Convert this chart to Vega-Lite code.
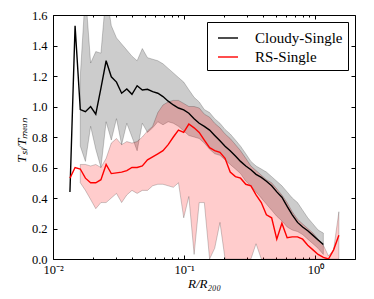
{
  "$schema": "https://vega.github.io/schema/vega-lite/v6.json",
  "autosize": "none",
  "width": 302,
  "height": 244,
  "padding": {"left": 53, "top": 15, "right": 19, "bottom": 40},
  "background": "white",
  "config": {
    "view": {"stroke": "black", "strokeWidth": 1},
    "axis": {
      "labelFont": "Liberation Serif", "labelFontSize": 12.5, "labelColor": "black",
      "tickColor": "black", "tickWidth": 1, "grid": false, "domain": false,
      "titleFont": "Liberation Serif", "titleFontSize": 13, "titleFontStyle": "italic",
      "titleFontWeight": "normal", "titleColor": "black"
    }
  },
  "data": {"values": [
    {"x":0.01346,"s":"Cloudy-Single","v":0.44},
    {"x":0.01473,"s":"Cloudy-Single","v":1.53},
    {"x":0.01614,"s":"Cloudy-Single","v":0.98,"lo":0.74,"hi":1.20},
    {"x":0.01766,"s":"Cloudy-Single","v":0.966,"lo":0.64,"hi":1.75},
    {"x":0.01935,"s":"Cloudy-Single","v":1.00,"lo":0.87,"hi":1.285},
    {"x":0.02118,"s":"Cloudy-Single","v":0.95,"lo":0.72,"hi":1.36},
    {"x":0.02319,"s":"Cloudy-Single","v":1.12,"lo":0.60,"hi":1.35},
    {"x":0.0254,"s":"Cloudy-Single","v":1.30,"lo":0.90,"hi":1.75},
    {"x":0.02781,"s":"Cloudy-Single","v":1.195,"lo":0.78,"hi":1.53},
    {"x":0.03046,"s":"Cloudy-Single","v":1.16,"lo":0.92,"hi":1.45},
    {"x":0.03334,"s":"Cloudy-Single","v":1.087,"lo":0.75,"hi":1.41},
    {"x":0.0365,"s":"Cloudy-Single","v":1.115,"lo":0.89,"hi":1.37},
    {"x":0.03997,"s":"Cloudy-Single","v":1.08,"lo":0.80,"hi":1.33},
    {"x":0.04376,"s":"Cloudy-Single","v":1.136,"lo":0.71,"hi":1.30},
    {"x":0.04793,"s":"Cloudy-Single","v":1.108,"lo":0.89,"hi":1.38},
    {"x":0.05248,"s":"Cloudy-Single","v":1.113,"lo":0.83,"hi":1.32},
    {"x":0.05745,"s":"Cloudy-Single","v":1.097,"lo":0.86,"hi":1.31},
    {"x":0.06291,"s":"Cloudy-Single","v":1.087,"lo":0.90,"hi":1.30},
    {"x":0.06887,"s":"Cloudy-Single","v":1.065,"lo":0.88,"hi":1.28},
    {"x":0.07543,"s":"Cloudy-Single","v":1.035,"lo":0.90,"hi":1.25},
    {"x":0.0826,"s":"Cloudy-Single","v":1.01,"lo":0.89,"hi":1.22},
    {"x":0.09036,"s":"Cloudy-Single","v":0.99,"lo":0.87,"hi":1.19},
    {"x":0.09908,"s":"Cloudy-Single","v":0.978,"lo":0.84,"hi":1.16},
    {"x":0.1084,"s":"Cloudy-Single","v":0.956,"lo":0.81,"hi":1.11},
    {"x":0.1189,"s":"Cloudy-Single","v":0.92,"lo":0.80,"hi":1.06},
    {"x":0.13,"s":"Cloudy-Single","v":0.89,"lo":0.79,"hi":1.03},
    {"x":0.1422,"s":"Cloudy-Single","v":0.87,"lo":0.76,"hi":0.98},
    {"x":0.156,"s":"Cloudy-Single","v":0.845,"lo":0.72,"hi":0.96},
    {"x":0.1706,"s":"Cloudy-Single","v":0.81,"lo":0.69,"hi":0.92},
    {"x":0.1871,"s":"Cloudy-Single","v":0.775,"lo":0.68,"hi":0.89},
    {"x":0.2046,"s":"Cloudy-Single","v":0.74,"lo":0.65,"hi":0.85},
    {"x":0.2239,"s":"Cloudy-Single","v":0.71,"lo":0.62,"hi":0.82},
    {"x":0.2455,"s":"Cloudy-Single","v":0.675,"lo":0.59,"hi":0.78},
    {"x":0.2685,"s":"Cloudy-Single","v":0.64,"lo":0.56,"hi":0.74},
    {"x":0.2944,"s":"Cloudy-Single","v":0.61,"lo":0.51,"hi":0.69},
    {"x":0.3221,"s":"Cloudy-Single","v":0.585,"lo":0.48,"hi":0.64},
    {"x":0.3524,"s":"Cloudy-Single","v":0.555,"lo":0.44,"hi":0.61},
    {"x":0.3864,"s":"Cloudy-Single","v":0.535,"lo":0.40,"hi":0.59},
    {"x":0.4227,"s":"Cloudy-Single","v":0.51,"lo":0.36,"hi":0.57},
    {"x":0.4634,"s":"Cloudy-Single","v":0.48,"lo":0.32,"hi":0.54},
    {"x":0.507,"s":"Cloudy-Single","v":0.44,"lo":0.28,"hi":0.51},
    {"x":0.5546,"s":"Cloudy-Single","v":0.405,"lo":0.25,"hi":0.48},
    {"x":0.6081,"s":"Cloudy-Single","v":0.345,"lo":0.21,"hi":0.44},
    {"x":0.6653,"s":"Cloudy-Single","v":0.29,"lo":0.19,"hi":0.40},
    {"x":0.7295,"s":"Cloudy-Single","v":0.24,"lo":0.18,"hi":0.37},
    {"x":0.798,"s":"Cloudy-Single","v":0.21,"lo":0.16,"hi":0.32},
    {"x":0.873,"s":"Cloudy-Single","v":0.185,"lo":0.13,"hi":0.27},
    {"x":0.9572,"s":"Cloudy-Single","v":0.155,"lo":0.10,"hi":0.23},
    {"x":1.047,"s":"Cloudy-Single","v":0.125,"lo":0.07,"hi":0.19},
    {"x":1.148,"s":"Cloudy-Single","v":0.095,"lo":0.03,"hi":0.17},
    {"x":0.01346,"s":"RS-Single","v":0.53},
    {"x":0.01473,"s":"RS-Single","v":0.60},
    {"x":0.01614,"s":"RS-Single","v":0.59,"lo":0.50,"hi":0.62},
    {"x":0.01766,"s":"RS-Single","v":0.53,"lo":0.45,"hi":0.62},
    {"x":0.01935,"s":"RS-Single","v":0.50,"lo":0.39,"hi":0.61},
    {"x":0.02118,"s":"RS-Single","v":0.50,"lo":0.33,"hi":0.62},
    {"x":0.02319,"s":"RS-Single","v":0.52,"lo":0.37,"hi":0.60},
    {"x":0.0254,"s":"RS-Single","v":0.62,"lo":0.37,"hi":0.66},
    {"x":0.02781,"s":"RS-Single","v":0.56,"lo":0.40,"hi":0.76},
    {"x":0.03046,"s":"RS-Single","v":0.565,"lo":0.43,"hi":0.79},
    {"x":0.03334,"s":"RS-Single","v":0.57,"lo":0.37,"hi":0.75},
    {"x":0.0365,"s":"RS-Single","v":0.58,"lo":0.42,"hi":0.77},
    {"x":0.03997,"s":"RS-Single","v":0.60,"lo":0.45,"hi":0.76},
    {"x":0.04376,"s":"RS-Single","v":0.60,"lo":0.43,"hi":0.77},
    {"x":0.04793,"s":"RS-Single","v":0.61,"lo":0.45,"hi":0.80},
    {"x":0.05248,"s":"RS-Single","v":0.65,"lo":0.45,"hi":0.84},
    {"x":0.05745,"s":"RS-Single","v":0.67,"lo":0.48,"hi":0.87},
    {"x":0.06291,"s":"RS-Single","v":0.69,"lo":0.49,"hi":0.96},
    {"x":0.06887,"s":"RS-Single","v":0.71,"lo":0.49,"hi":1.01},
    {"x":0.07543,"s":"RS-Single","v":0.75,"lo":0.48,"hi":1.03},
    {"x":0.0826,"s":"RS-Single","v":0.80,"lo":0.47,"hi":1.04},
    {"x":0.09036,"s":"RS-Single","v":0.845,"lo":0.50,"hi":1.04},
    {"x":0.09908,"s":"RS-Single","v":0.83,"lo":0.27,"hi":1.02},
    {"x":0.1084,"s":"RS-Single","v":0.885,"lo":0.41,"hi":1.00},
    {"x":0.1189,"s":"RS-Single","v":0.86,"lo":0.03,"hi":1.00},
    {"x":0.13,"s":"RS-Single","v":0.83,"lo":0.37,"hi":0.99},
    {"x":0.1422,"s":"RS-Single","v":0.78,"lo":0.37,"hi":0.95},
    {"x":0.156,"s":"RS-Single","v":0.73,"lo":0.0,"hi":0.93},
    {"x":0.1706,"s":"RS-Single","v":0.71,"lo":0.07,"hi":0.89},
    {"x":0.1871,"s":"RS-Single","v":0.70,"lo":0.24,"hi":0.86},
    {"x":0.2046,"s":"RS-Single","v":0.66,"lo":0.0,"hi":0.82},
    {"x":0.2239,"s":"RS-Single","v":0.57,"lo":0.0,"hi":0.79},
    {"x":0.2455,"s":"RS-Single","v":0.54,"lo":0.0,"hi":0.75},
    {"x":0.2685,"s":"RS-Single","v":0.53,"lo":0.0,"hi":0.71},
    {"x":0.2944,"s":"RS-Single","v":0.49,"lo":0.0,"hi":0.66},
    {"x":0.3221,"s":"RS-Single","v":0.48,"lo":0.0,"hi":0.61},
    {"x":0.3524,"s":"RS-Single","v":0.42,"lo":0.10,"hi":0.58},
    {"x":0.3864,"s":"RS-Single","v":0.37,"lo":0.0,"hi":0.55},
    {"x":0.4227,"s":"RS-Single","v":0.29,"lo":0.0,"hi":0.52},
    {"x":0.4634,"s":"RS-Single","v":0.27,"lo":0.0,"hi":0.50},
    {"x":0.507,"s":"RS-Single","v":0.13,"lo":0.0,"hi":0.46},
    {"x":0.5546,"s":"RS-Single","v":0.235,"lo":0.0,"hi":0.42},
    {"x":0.6081,"s":"RS-Single","v":0.14,"lo":0.0,"hi":0.37},
    {"x":0.6653,"s":"RS-Single","v":0.145,"lo":0.0,"hi":0.31},
    {"x":0.7295,"s":"RS-Single","v":0.145,"lo":0.0,"hi":0.26},
    {"x":0.798,"s":"RS-Single","v":0.13,"lo":0.0,"hi":0.23},
    {"x":0.873,"s":"RS-Single","v":0.09,"lo":0.0,"hi":0.20},
    {"x":0.9572,"s":"RS-Single","v":0.06,"lo":0.0,"hi":0.17},
    {"x":1.047,"s":"RS-Single","v":0.03,"lo":0.0,"hi":0.13},
    {"x":1.148,"s":"RS-Single","v":0.01,"lo":0.0,"hi":0.09},
    {"x":1.256,"s":"RS-Single","v":0.0,"lo":0.0,"hi":0.02},
    {"x":1.374,"s":"RS-Single","v":0.06,"lo":0.0,"hi":0.06},
    {"x":1.507,"s":"RS-Single","v":0.155,"lo":0.0,"hi":0.31}
  ]},
  "resolve": {"axis": {"x": "independent", "y": "independent"}},
  "layer": [
    {
      "transform": [{"filter": "isValid(datum.lo) && datum.s == 'Cloudy-Single'"}],
      "mark": {"type": "area", "clip": true, "fill": "black", "fillOpacity": 0.2, "stroke": "black", "strokeOpacity": 0.2, "strokeWidth": 1},
      "encoding": {
        "x": {"field": "x", "type": "quantitative",
          "scale": {"type": "log", "domain": [0.01, 2], "nice": false},
          "axis": {"orient": "bottom", "values": [0.01, 0.1, 1], "tickSize": -4, "labelPadding": 8, "labelFlush": false,
            "labelExpr": "datum.value < 0.05 ? '10⁻²' : datum.value < 0.5 ? '10⁻¹' : '10⁰'",
            "title": "R/R₂₀₀", "titleX": 151, "titleY": 28, "titleBaseline": "alphabetic", "titleAlign": "center"}},
        "y": {"field": "lo", "type": "quantitative", "stack": null,
          "scale": {"domain": [0, 1.6], "nice": false},
          "axis": {"orient": "left", "values": [0, 0.2, 0.4, 0.6, 0.8, 1.0, 1.2, 1.4, 1.6], "format": ".1f", "tickSize": -4, "labelPadding": 10,
            "title": "Tₛₗ/Tₘₑₐₙ", "titleX": -28, "titleY": 125, "titleAngle": 270, "titleBaseline": "alphabetic", "titleAlign": "center"}},
        "y2": {"field": "hi"}
      }
    },
    {
      "transform": [{"filter": "isValid(datum.lo) && datum.s == 'RS-Single'"}],
      "mark": {"type": "area", "clip": true, "fill": "red", "fillOpacity": 0.2, "stroke": "black", "strokeOpacity": 0.2, "strokeWidth": 1},
      "encoding": {
        "x": {"field": "x", "type": "quantitative", "axis": null},
        "y": {"field": "lo", "type": "quantitative", "stack": null, "axis": null},
        "y2": {"field": "hi"}
      }
    },
    {
      "mark": {"type": "line", "strokeWidth": 1.4, "clip": true},
      "encoding": {
        "x": {"field": "x", "type": "quantitative",
          "axis": {"orient": "bottom", "values": [0.02,0.03,0.04,0.05,0.06,0.07,0.08,0.09,0.2,0.3,0.4,0.5,0.6,0.7,0.8,0.9], "tickSize": -2, "labels": false, "title": null}},
        "y": {"field": "v", "type": "quantitative",
          "axis": {"orient": "right", "values": [0, 0.2, 0.4, 0.6, 0.8, 1.0, 1.2, 1.4, 1.6], "tickSize": -4, "labels": false, "title": null}},
        "color": {"field": "s", "type": "nominal", "scale": {"domain": ["Cloudy-Single", "RS-Single"], "range": ["black", "red"]},
          "legend": {"title": null, "orient": "none", "legendX": 154, "legendY": 7, "strokeColor": "black", "fillColor": "white",
            "padding": 5, "symbolType": "stroke", "symbolSize": 400, "symbolStrokeWidth": 1.4, "symbolOffset": 5,
            "labelFont": "Liberation Serif", "labelFontSize": 15, "labelColor": "black", "labelOffset": 16, "rowPadding": 0}}
      }
    },
    {
      "mark": {"type": "point", "opacity": 0},
      "encoding": {
        "x": {"field": "x", "type": "quantitative",
          "axis": {"orient": "top", "values": [0.01, 0.1, 1], "tickSize": -4, "labels": false, "title": null}},
        "y": {"field": "v", "type": "quantitative", "axis": null}
      }
    },
    {
      "mark": {"type": "point", "opacity": 0},
      "encoding": {
        "x": {"field": "x", "type": "quantitative",
          "axis": {"orient": "top", "values": [0.02,0.03,0.04,0.05,0.06,0.07,0.08,0.09,0.2,0.3,0.4,0.5,0.6,0.7,0.8,0.9], "tickSize": -2, "labels": false, "title": null}},
        "y": {"field": "v", "type": "quantitative", "axis": null}
      }
    }
  ]
}
